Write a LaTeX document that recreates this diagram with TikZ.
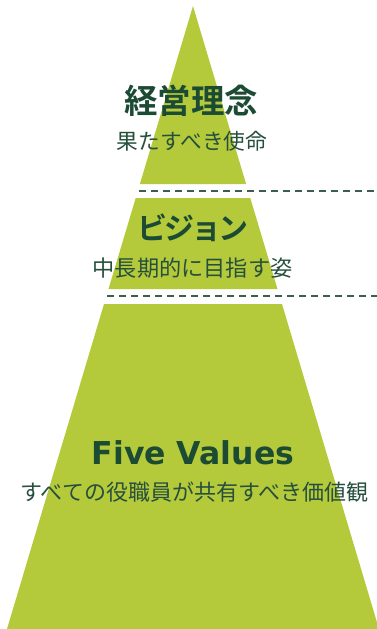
\documentclass[tikz,border=0pt]{standalone}
\usepackage{fontspec}
\newfontfamily\jp{Noto Sans CJK JP}
\newfontfamily\jpb{Noto Sans CJK JP Bold}
\newfontfamily\jpbt[LetterSpace=-10]{Noto Sans CJK JP Bold}
\newfontfamily\lat{DejaVu Sans}
\definecolor{pyr}{HTML}{B5CA3A}
\definecolor{titlec}{HTML}{1C4B34}
\definecolor{subc}{HTML}{264F3E}
\definecolor{dashc}{HTML}{3A5F4E}
\tikzset{
  tier/.style={fill=pyr, draw=none},
  sep/.style={draw=dashc, line width=2pt, dash pattern=on 7pt off 5pt},
  ttl/.style={text=titlec, inner sep=0pt, anchor=center},
  sub/.style={text=subc, inner sep=0pt, anchor=center}
}
\begin{document}
\begin{tikzpicture}[x=1pt,y=-1pt]
\useasboundingbox (0,0) rectangle (377,629);
% tiers
\fill[tier] (193,6) -- (246.1,184) -- (139.9,184) -- cycle;
\fill[tier] (135.7,198) -- (250.3,198) -- (277.5,289) -- (108.5,289) -- cycle;
\fill[tier] (104,304) -- (282,304) -- (379,629) -- (7,629) -- cycle;
% separators
\coordinate (s1a) at (139,190.5);
\coordinate (s1b) at (377,190.5);
\coordinate (s2a) at (107,296);
\coordinate (s2b) at (377,296);
\draw[sep] (s1a) -- (s1b);
\draw[sep] (s2a) -- (s2b);
% texts
\node[ttl] (t1) at (191,101) {\jpb\fontsize{33.5}{33.5}\selectfont 経営理念};
\node[sub] (u1) at (192,141) {\jp\fontsize{21.7}{21.7}\selectfont 果たすべき使命};
\node[ttl] (t2) at (193,228) {\jpbt\fontsize{30}{30}\selectfont ビジョン};
\node[sub] (u2) at (192.5,268) {\jp\fontsize{22.2}{22.2}\selectfont 中長期的に目指す姿};
\node[ttl] (t3) at (193,452.5) {\lat\bfseries\fontsize{31.5}{31.5}\selectfont Five Values};
\node[sub] (u3) at (194.5,492) {\jp\fontsize{22}{22}\selectfont すべての役職員が共有すべき価値観};
\end{tikzpicture}
\end{document}
